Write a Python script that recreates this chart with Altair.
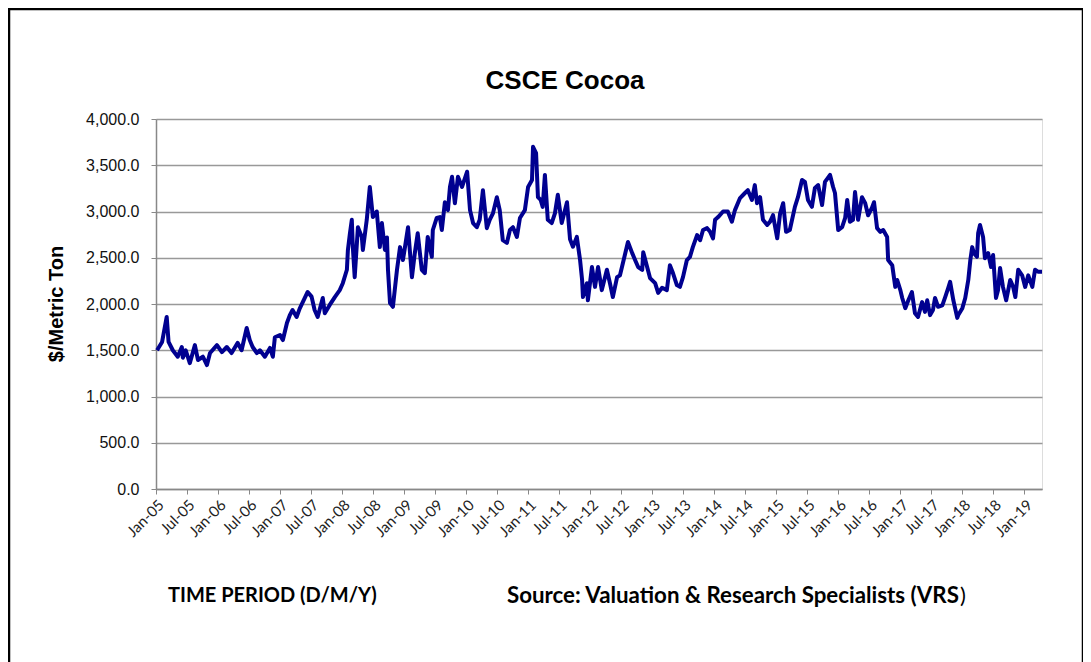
import altair as alt
import pandas as pd

dates = [
"2005-01-07","2005-02-06","2005-03-05","2005-03-16","2005-04-10","2005-05-09","2005-06-02","2005-06-08","2005-06-25","2005-07-19",
"2005-08-18","2005-09-05","2005-10-04","2005-10-28","2005-11-15","2005-12-26","2006-01-24","2006-02-22","2006-03-22","2006-04-27",
"2006-05-20","2006-06-19","2006-07-07","2006-07-24","2006-08-18","2006-09-05","2006-10-04","2006-11-03","2006-11-20","2006-12-02",
"2007-01-01","2007-01-18","2007-02-11","2007-02-28","2007-03-16","2007-04-09","2007-04-27","2007-06-13","2007-07-06","2007-07-24",
"2007-08-11","2007-09-10","2007-09-22","2007-10-21","2007-11-20","2007-12-19","2008-01-06","2008-01-30","2008-02-05","2008-02-17",
"2008-02-28","2008-03-05","2008-03-16","2008-04-04","2008-04-27","2008-05-03","2008-05-26","2008-06-13","2008-07-01","2008-07-24",
"2008-08-11","2008-08-23","2008-09-10","2008-09-22","2008-09-28","2008-10-10","2008-10-27","2008-11-20","2008-12-08","2008-12-25",
"2009-01-06","2009-01-24","2009-02-16","2009-03-05","2009-03-22","2009-04-15","2009-05-03","2009-05-20","2009-06-13","2009-06-19",
"2009-07-12","2009-07-30","2009-08-11","2009-08-29","2009-09-16","2009-09-28","2009-10-10","2009-10-27","2009-11-14","2009-12-08",
"2010-01-07","2010-01-24","2010-02-11","2010-03-05","2010-03-22","2010-04-10","2010-05-03","2010-05-20","2010-06-08","2010-07-01",
"2010-07-18","2010-08-05","2010-08-29","2010-09-16","2010-10-04","2010-10-27","2010-11-14","2010-12-13","2011-01-01","2011-01-24",
"2011-01-30","2011-02-17","2011-02-28","2011-03-16","2011-03-28","2011-04-10","2011-04-27","2011-05-20","2011-06-08","2011-06-25",
"2011-07-18","2011-08-18","2011-09-05","2011-09-22","2011-10-15","2011-11-03","2011-11-15","2011-11-20","2011-12-13","2011-12-19",
"2012-01-12","2012-01-30","2012-02-17","2012-03-10","2012-04-09","2012-04-27","2012-05-14","2012-06-08","2012-06-25","2012-07-12",
"2012-08-11","2012-09-05","2012-09-22","2012-10-10","2012-11-03","2012-11-09","2012-12-02","2012-12-19","2013-01-18","2013-02-05",
"2013-02-28","2013-03-28","2013-04-15","2013-05-03","2013-05-26","2013-06-13","2013-07-01","2013-07-24","2013-08-11","2013-08-28",
"2013-09-22","2013-10-10","2013-10-27","2013-11-20","2013-12-08","2013-12-25","2014-01-06","2014-01-24","2014-02-22","2014-03-22",
"2014-04-15","2014-05-03","2014-06-02","2014-07-01","2014-07-18","2014-08-11","2014-08-28","2014-09-10","2014-09-28","2014-10-15",
"2014-11-09","2014-11-26","2014-12-13","2015-01-07","2015-01-24","2015-02-11","2015-02-28","2015-03-22","2015-04-21","2015-05-09",
"2015-06-02","2015-06-19","2015-07-07","2015-07-30","2015-08-17","2015-09-05","2015-09-28","2015-10-15","2015-11-14","2015-12-02",
"2015-12-13","2016-01-01","2016-01-24","2016-02-11","2016-02-23","2016-03-10","2016-03-28","2016-04-09","2016-04-27","2016-05-20",
"2016-06-08","2016-06-25","2016-07-18","2016-07-30","2016-08-17","2016-09-05","2016-09-22","2016-10-15","2016-10-21","2016-11-14",
"2016-12-02","2016-12-13","2017-01-01","2017-01-12","2017-01-30","2017-02-17","2017-03-10","2017-03-28","2017-04-15","2017-05-09",
"2017-05-26","2017-06-08","2017-06-25","2017-07-12","2017-07-24","2017-08-11","2017-09-05","2017-09-22","2017-10-10","2017-10-21",
"2017-11-09","2017-12-02","2017-12-08","2018-01-01","2018-01-18","2018-02-05","2018-02-17","2018-02-28","2018-03-10","2018-03-28",
"2018-04-04","2018-04-15","2018-05-03","2018-05-14","2018-06-02","2018-06-19","2018-07-01","2018-07-18","2018-07-30","2018-08-11",
"2018-08-28","2018-09-16","2018-10-10","2018-10-27","2018-11-09","2018-11-26","2018-12-19","2019-01-06","2019-01-24","2019-02-17",
"2019-03-05","2019-03-22","2019-04-15",
]

prices = [
1500,1590,1860,1590,1500,1430,1535,1420,1500,1360,
1555,1395,1430,1340,1470,1555,1480,1535,1470,1580,
1500,1740,1610,1535,1470,1500,1430,1525,1430,1640,
1665,1610,1795,1880,1935,1860,1950,2130,2080,1935,
1860,2065,1900,1990,2075,2150,2225,2370,2585,2765,
2910,2615,2290,2830,2725,2585,2910,3265,2940,3000,
2615,2875,2585,2720,2370,2010,1970,2370,2615,2475,
2615,2830,2290,2550,2765,2370,2335,2725,2510,2800,
2930,2940,2800,3100,3015,3265,3375,3090,3375,3265,
3430,3015,2875,2830,2910,3230,2820,2910,2980,3155,
3015,2690,2660,2800,2830,2725,2930,3015,3265,3340,
3700,3630,3155,3125,3050,3395,2910,2875,2980,3180,
2875,3100,2700,2620,2725,2475,2260,2075,2225,2040,
2400,2185,2400,2150,2370,2225,2075,2290,2310,2440,
2670,2550,2475,2400,2370,2560,2400,2280,2225,2120,
2175,2150,2420,2335,2205,2185,2290,2475,2510,2615,
2745,2690,2800,2820,2780,2710,2910,2940,3000,3000,
2890,3015,3145,3200,3230,3125,3285,3090,3155,2910,
2855,2890,2960,2710,2980,3090,2780,2800,3050,3155,
3340,3320,3125,3050,3255,3285,3070,3320,3395,3265,
3200,2800,2830,2930,3125,2890,2910,3210,2910,3155,
3090,2960,3040,3100,2820,2780,2800,2725,2475,2420,
2185,2260,2150,2065,1955,2040,2130,1900,1860,2020,
1915,2040,1880,1935,2065,1970,1985,2075,2175,2240,
2040,1850,1880,1955,2065,2260,2475,2615,2550,2510,
2765,2855,2725,2495,2550,2400,2530,2065,2150,2390,
2185,2040,2260,2185,2075,2370,2310,2185,2310,2185,
2370,2350,2350,
]

tick_dates = [f"{y}-{m:02d}-01" for y in range(2005, 2020) for m in (1, 7) if not (y == 2019 and m == 7)]
y_ticks = [0, 500, 1000, 1500, 2000, 2500, 3000, 3500, 4000]
chart_title = ["CSCE Cocoa"]
y_title = ["$/Metric Ton"]
footer_left = ["TIME PERIOD (D/M/Y)"]
footer_right = ["Source: Valuation & Research Specialists (VRS"]
footer_right_end = [")"]

df = pd.DataFrame({"date": pd.to_datetime(dates), "price": prices})

W, H = 886, 370

line = alt.Chart(df).mark_line(color="#000090", strokeWidth=4, strokeJoin="round").encode(
    x=alt.X("date:T",
            scale=alt.Scale(domain=[alt.DateTime(year=2005, month=1, date=1),
                                    alt.DateTime(year=2019, month=4, date=15)]),
            axis=alt.Axis(values=[alt.DateTime(year=int(d[:4]), month=int(d[5:7]), date=1) for d in tick_dates],
                          format="%b-%y", labelAngle=-45, labelFont="Lato", labelFontSize=15,
                          labelOverlap=False, labelBound=False,
                          labelColor="#222", tickColor="#888", tickSize=5, domainColor="#888",
                          domainWidth=1.5, grid=False, title=None, labelPadding=3)),
    y=alt.Y("price:Q", scale=alt.Scale(domain=[0, 4000]),
            axis=alt.Axis(values=y_ticks, format=",.1f", labelFont="Liberation Sans", labelFontSize=16,
                          labelColor="#111", tickColor="#888", tickSize=5, domainColor="#888",
                          domainWidth=1.5, gridColor="#999", gridWidth=1.5, title=None, labelPadding=12)),
)

border = alt.Chart(pd.DataFrame({"k": [0]})).mark_rect(filled=False, stroke="black", strokeWidth=2.5).encode(
    x=alt.value(-147), x2=alt.value(927), y=alt.value(-110), y2=alt.value(570))

title = alt.Chart(pd.DataFrame({"t": chart_title})).mark_text(
    font="Liberation Sans", fontSize=26, fontWeight="bold", color="black", align="center", baseline="middle"
).encode(text="t:N", x=alt.value(409), y=alt.value(-38))

ytitle = alt.Chart(pd.DataFrame({"t": y_title})).mark_text(
    font="Liberation Sans", fontSize=20, fontWeight="bold", color="black", align="center", baseline="middle", angle=270
).encode(text="t:N", x=alt.value(-99), y=alt.value(185))

fl = alt.Chart(pd.DataFrame({"t": footer_left})).mark_text(
    font="Lato", fontSize=20, fontWeight="bold", color="black", align="left", baseline="middle"
).encode(text="t:N", x=alt.value(12), y=alt.value(477))

fr = alt.Chart(pd.DataFrame({"t": footer_right})).mark_text(
    font="Lato", fontSize=22.3, fontWeight="bold", color="black", align="left", baseline="middle"
).encode(text="t:N", x=alt.value(351), y=alt.value(477))

fr2 = alt.Chart(pd.DataFrame({"t": footer_right_end})).mark_text(
    font="Lato", fontSize=22, fontWeight="normal", color="black", align="left", baseline="middle"
).encode(text="t:N", x=alt.value(804), y=alt.value(477))

chart = alt.layer(line, border, title, ytitle, fl, fr, fr2).properties(
    width=W, height=H,
    autosize=alt.AutoSizeParams(type="none"),
    padding={"left": 148, "top": 111, "right": 41, "bottom": 173},
).configure_view(stroke=None).configure(background="white")

chart.save("out.html", embed_options={"renderer": "svg", "actions": False})
